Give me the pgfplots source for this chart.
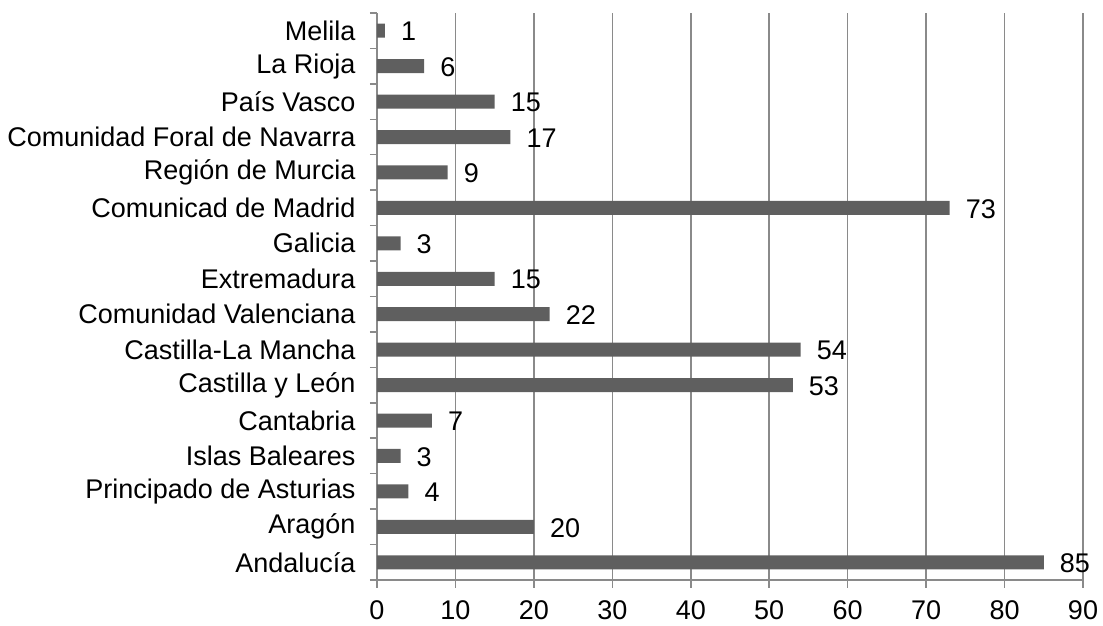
\documentclass[border=0pt]{standalone}
\usepackage{fontspec}
\setmainfont{Liberation Sans}
\usepackage{pgfplots}
\pgfplotsset{compat=1.18}
\definecolor{barc}{HTML}{5F5F5F}
\definecolor{gridc}{HTML}{8A8A8A}
\newcommand\f{\fontsize{27}{31}\selectfont}
\begin{document}
\begin{tikzpicture}
\begin{axis}[
  name=ax,
  xbar,
  scale only axis,
  width=706pt, height=567pt,
  xmin=0, xmax=90,
  ymin=-0.5, ymax=15.5,
  bar width=14pt,
  axis lines*=left,
  axis line style={draw=gridc, line width=1.5pt, -},
  xtick={0,10,...,90},
  xmajorgrids,
  grid style={draw=gridc, line width=1.5pt},
  tick style={draw=gridc, line width=1.5pt},
  tick align=outside,
  xtick pos=bottom, ytick pos=left,
  major tick length=8pt,
  ytick={0,...,15},
  y tick style={draw=none},
  minor ytick={-0.5,0.5,...,15.5},
  minor y tick style={draw=gridc, line width=1.5pt},
  minor tick length=7pt,
  yticklabels={Andalucía,Aragón,Principado de Asturias,Islas Baleares,Cantabria,Castilla y León,Castilla-La Mancha,Comunidad Valenciana,Extremadura,Galicia,Comunicad de Madrid,Región de Murcia,Comunidad Foral de Navarra,País Vasco,La Rioja,Melila},
  tick label style={font=\f, text=black},
  /pgf/number format/assume math mode=true,
  yticklabel style={xshift=-10pt},
  xticklabel style={yshift=-9pt},
  nodes near coords,
  nodes near coords style={font=\f, text=black, anchor=west, inner sep=0pt, xshift=16pt, yshift=-1pt},
]
\addplot[fill=barc, draw=none] coordinates {
(85,0) (20,1) (4,2) (3,3) (7,4) (53,5) (54,6) (22,7) (15,8) (3,9) (73,10) (9,11) (17,12) (15,13) (6,14) (1,15)
};
\end{axis}
\pgfresetboundingbox
\path[use as bounding box] ([shift={(-377pt,-45pt)}]ax.south west) rectangle ([shift={(20pt,13pt)}]ax.north east);
\end{tikzpicture}
\end{document}
